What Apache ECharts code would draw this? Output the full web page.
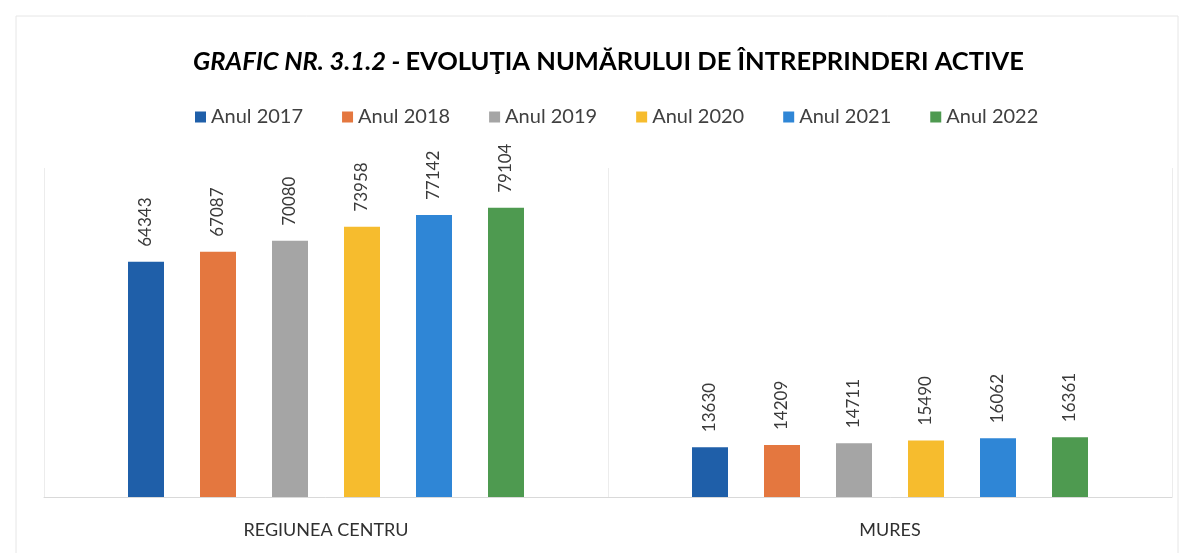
<!DOCTYPE html>
<html>
<head>
<meta charset="utf-8">
<script src="https://cdn.jsdelivr.net/npm/echarts@6/dist/echarts.min.js"></script>
<style>
html, body { margin: 0; padding: 0; background: #fff; }
#chart { width: 1190px; height: 553px; }
</style>
</head>
<body>
<div id="chart"></div>
<script>
// categorii si valori (numar intreprinderi active)
var categories = ['REGIUNEA CENTRU', 'MURES'];
var years = ['Anul 2017', 'Anul 2018', 'Anul 2019', 'Anul 2020', 'Anul 2021', 'Anul 2022'];
var val2017 = [64343, 13630];
var val2018 = [67087, 14209];
var val2019 = [70080, 14711];
var val2020 = [73958, 15490];
var val2021 = [77142, 16062];
var val2022 = [79104, 16361];
var colors = ['#1f5fa9', '#e4773f', '#a5a5a5', '#f6bc2e', '#2f86d6', '#4e9a50'];

var allValues = [val2017, val2018, val2019, val2020, val2021, val2022];
var font = 'Lato, "Open Sans", sans-serif';

var series = [];
for (var i = 0; i < years.length; i++) {
    series.push({
        name: years[i],
        type: 'bar',
        barWidth: 36,
        barGap: '100%',
        itemStyle: { color: colors[i] },
        label: {
            show: true,
            position: 'top',
            rotate: 90,
            align: 'left',
            verticalAlign: 'middle',
            distance: 15,
            fontFamily: font,
            fontSize: 17,
            color: '#3a3a3a'
        },
        data: allValues[i]
    });
}

var chart = echarts.init(document.getElementById('chart'));
var option = {
    backgroundColor: '#fff',
    animation: false,
    graphic: [{
        type: 'rect',
        shape: { x: 16, y: 16, width: 1162, height: 560 },
        style: { fill: 'none', stroke: '#e6e6e6', lineWidth: 1 }
    }],
    title: {
        text: '{it|GRAFIC NR. 3.1.2 -} {b|EVOLUŢIA NUMĂRULUI DE ÎNTREPRINDERI ACTIVE}',
        left: 188,
        top: 44,
        textStyle: {
            rich: {
                it: { fontFamily: font, fontSize: 25.5, fontWeight: 'bold', fontStyle: 'italic', color: '#000' },
                b: { fontFamily: font, fontSize: 25.5, fontWeight: 'bold', color: '#000' }
            }
        }
    },
    legend: {
        data: years,
        top: 102,
        left: 190,
        itemWidth: 11,
        itemHeight: 11,
        itemGap: 39,
        icon: 'rect',
        textStyle: { fontFamily: font, fontSize: 20, color: '#404040' }
    },
    grid: {
        left: 44,
        right: 18,
        top: 168,
        bottom: 56
    },
    xAxis: {
        type: 'category',
        data: categories,
        axisLine: { lineStyle: { color: '#d9d9d9' } },
        axisTick: { show: false },
        splitLine: { show: true, lineStyle: { color: '#ececec' } },
        axisLabel: {
            margin: 24,
            fontFamily: font,
            fontSize: 18,
            color: '#303030'
        }
    },
    yAxis: {
        type: 'value',
        min: 0,
        max: 90000,
        interval: 10000,
        show: false
    },
    series: series
};
chart.setOption(option);
</script>
</body>
</html>
